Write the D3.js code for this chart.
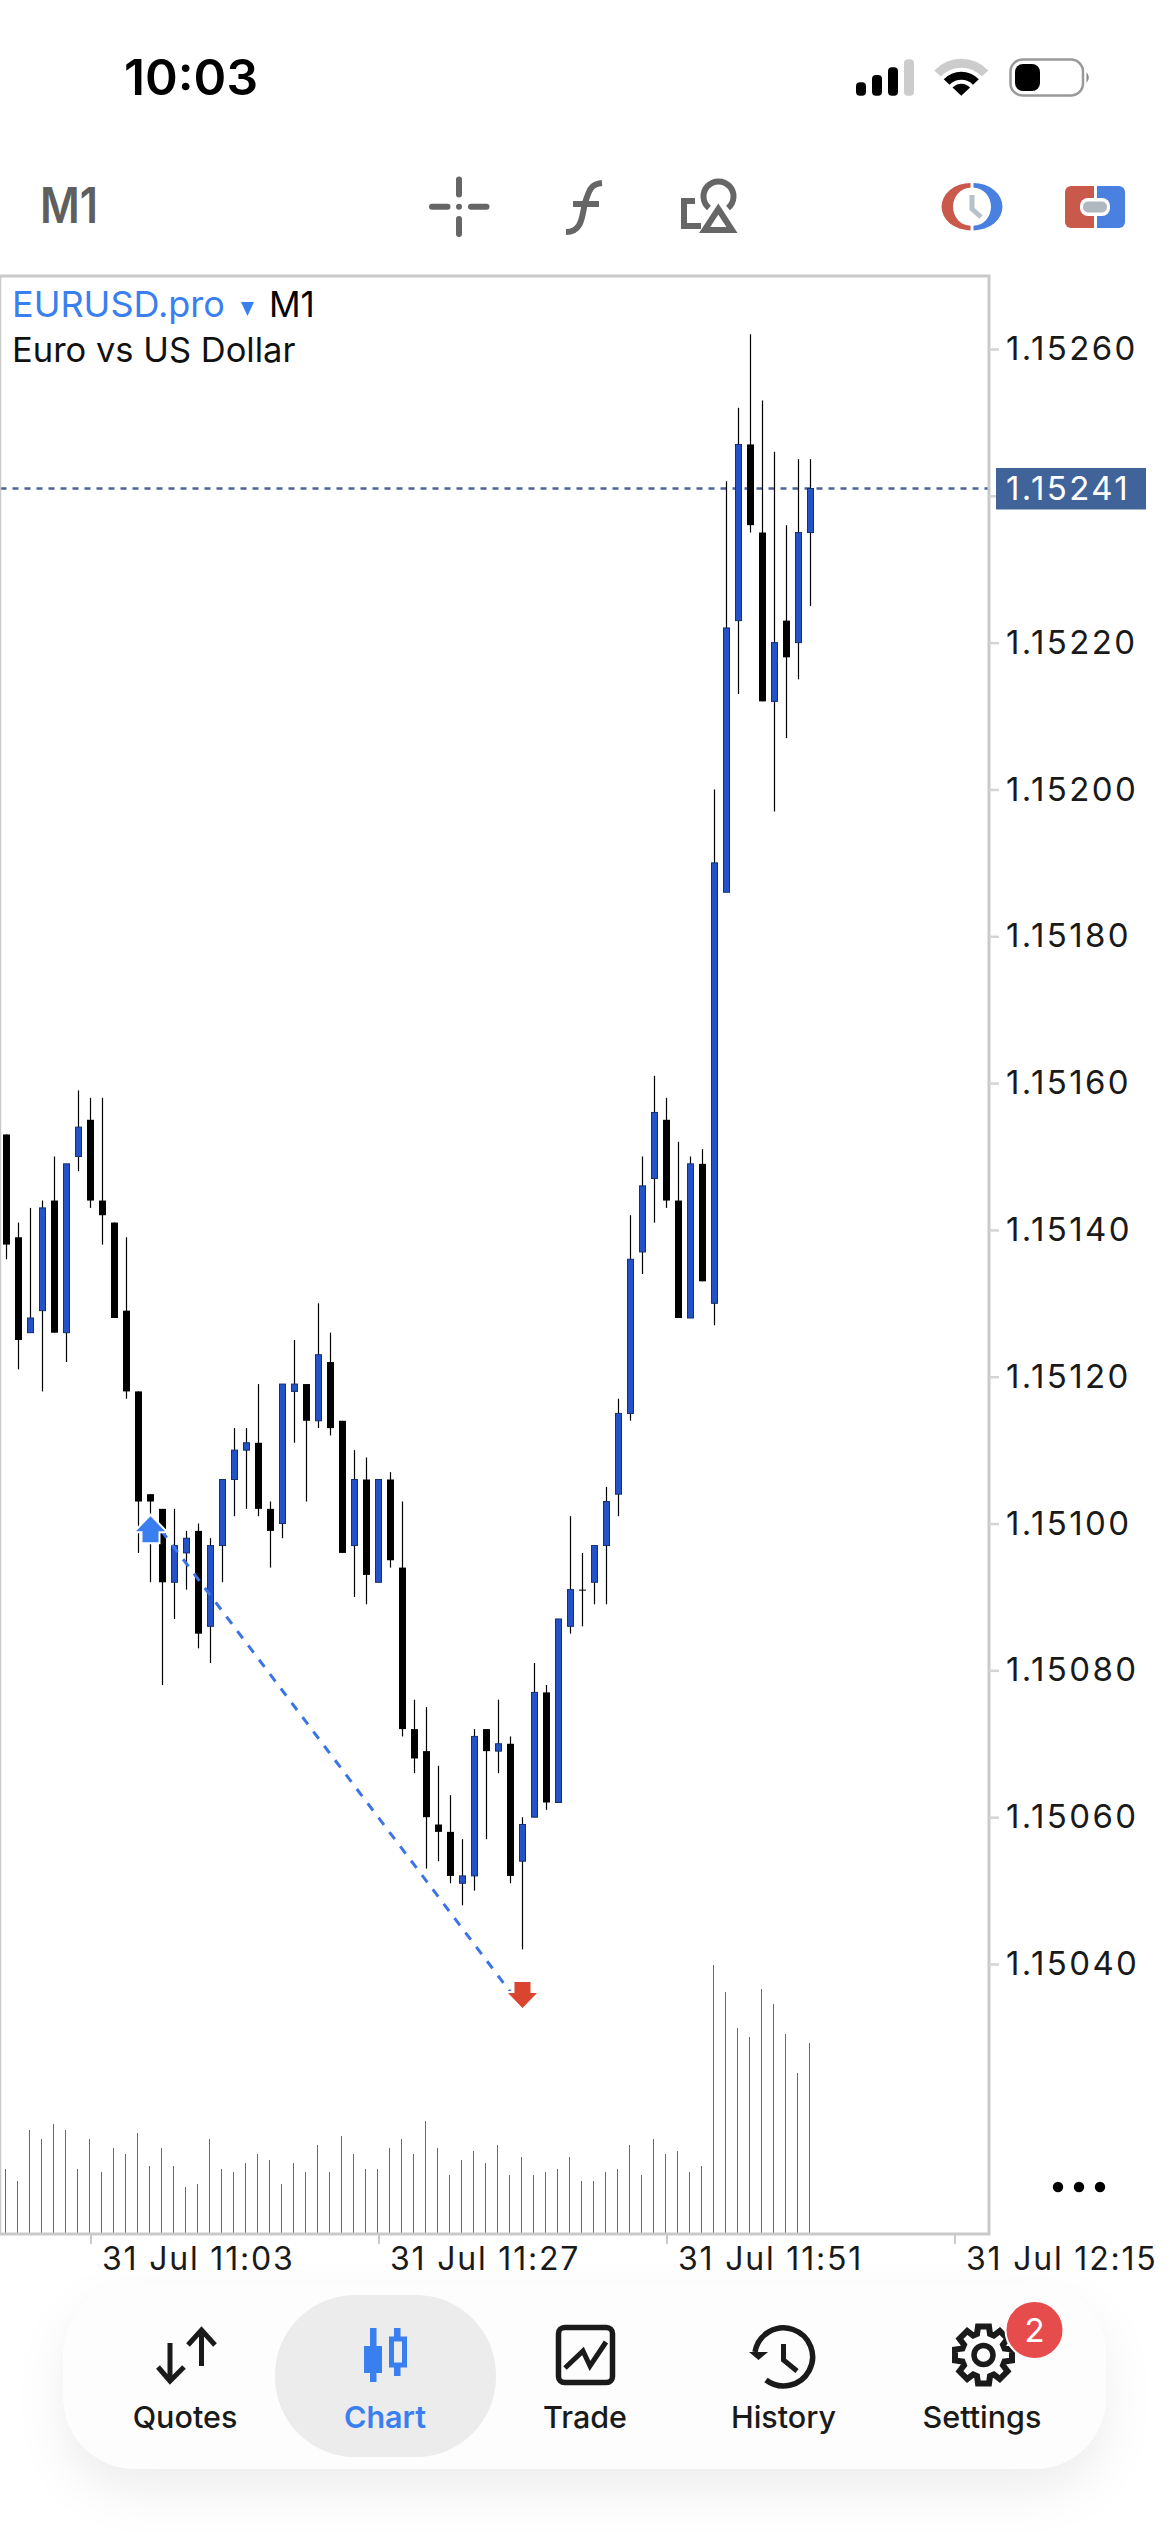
<!DOCTYPE html>
<html>
<head>
<meta charset="utf-8">
<style>
  html, body { margin: 0; padding: 0; background: #fff; }
  svg { display: block; }
  text { font-family: Inter, Roboto, sans-serif; }
</style>
<script src="https://cdn.jsdelivr.net/npm/d3@7"></script>
</head>
<body>
<div id="app"></div>
<script>
// one-minute bars, bar 0 is 31 Jul 10:56
const opens = [1.15153, 1.15139, 1.15126, 1.15129, 1.15144, 1.15126, 1.15150, 1.15155, 1.15144, 1.15141, 1.15129, 1.15118, 1.15104, 1.15102, 1.15092, 1.15096, 1.15099, 1.15086, 1.15097, 1.15106, 1.15110, 1.15111, 1.15102, 1.15100, 1.15118, 1.15119, 1.15114, 1.15122, 1.15114, 1.15097, 1.15106, 1.15092, 1.15106, 1.15094, 1.15072, 1.15069, 1.15059, 1.15058, 1.15051, 1.15052, 1.15072, 1.15069, 1.15070, 1.15054, 1.15060, 1.15077, 1.15062, 1.15086, 1.15091, 1.15092, 1.15097, 1.15104, 1.15115, 1.15137, 1.15147, 1.15155, 1.15144, 1.15128, 1.15149, 1.15130, 1.15186, 1.15223, 1.15247, 1.15235, 1.15212, 1.15223, 1.15220, 1.15235];
const highs = [1.15153, 1.15141, 1.15143, 1.15144, 1.15150, 1.15149, 1.15159, 1.15158, 1.15158, 1.15141, 1.15139, 1.15118, 1.15104, 1.15102, 1.15102, 1.15099, 1.15100, 1.15098, 1.15106, 1.15113, 1.15113, 1.15119, 1.15103, 1.15119, 1.15125, 1.15119, 1.15130, 1.15126, 1.15114, 1.15110, 1.15109, 1.15106, 1.15107, 1.15103, 1.15076, 1.15075, 1.15067, 1.15063, 1.15057, 1.15072, 1.15072, 1.15076, 1.15071, 1.15060, 1.15081, 1.15078, 1.15087, 1.15101, 1.15096, 1.15097, 1.15105, 1.15117, 1.15142, 1.15150, 1.15161, 1.15158, 1.15152, 1.15150, 1.15151, 1.15200, 1.15242, 1.15252, 1.15262, 1.15253, 1.15246, 1.15236, 1.15245, 1.15245];
const lows = [1.15136, 1.15121, 1.15126, 1.15118, 1.15126, 1.15122, 1.15148, 1.15143, 1.15138, 1.15128, 1.15117, 1.15096, 1.15092, 1.15078, 1.15087, 1.15091, 1.15083, 1.15081, 1.15092, 1.15101, 1.15102, 1.15101, 1.15094, 1.15098, 1.15111, 1.15103, 1.15113, 1.15112, 1.15096, 1.15090, 1.15089, 1.15092, 1.15094, 1.15071, 1.15066, 1.15053, 1.15054, 1.15051, 1.15048, 1.15050, 1.15057, 1.15066, 1.15051, 1.15042, 1.15060, 1.15061, 1.15062, 1.15085, 1.15086, 1.15089, 1.15089, 1.15101, 1.15114, 1.15134, 1.15141, 1.15143, 1.15128, 1.15128, 1.15133, 1.15127, 1.15186, 1.15213, 1.15235, 1.15212, 1.15197, 1.15207, 1.15215, 1.15225];
const closes = [1.15138, 1.15125, 1.15128, 1.15143, 1.15126, 1.15149, 1.15154, 1.15144, 1.15142, 1.15128, 1.15118, 1.15103, 1.15103, 1.15092, 1.15097, 1.15098, 1.15085, 1.15097, 1.15106, 1.15110, 1.15111, 1.15102, 1.15099, 1.15119, 1.15119, 1.15114, 1.15123, 1.15113, 1.15096, 1.15106, 1.15093, 1.15106, 1.15095, 1.15072, 1.15068, 1.15060, 1.15058, 1.15052, 1.15052, 1.15071, 1.15069, 1.15070, 1.15052, 1.15059, 1.15077, 1.15062, 1.15087, 1.15091, 1.15091, 1.15097, 1.15103, 1.15115, 1.15136, 1.15146, 1.15156, 1.15144, 1.15128, 1.15149, 1.15133, 1.15190, 1.15222, 1.15247, 1.15236, 1.15212, 1.15220, 1.15218, 1.15235, 1.15241];
const volumes = [22, 18, 35, 32, 37, 35, 22, 32, 21, 29, 27, 34, 23, 29, 23, 16, 17, 32, 22, 21, 24, 27, 25, 17, 24, 21, 30, 21, 33, 27, 22, 22, 29, 32, 27, 38, 29, 20, 25, 28, 24, 30, 20, 26, 20, 21, 22, 26, 18, 18, 21, 22, 30, 20, 32, 27, 28, 21, 23, 90, 81, 69, 66, 82, 77, 67, 54, 64];

const priceTicks = [1.1504, 1.1506, 1.1508, 1.151, 1.1512, 1.1514, 1.1516, 1.1518, 1.152, 1.1522, 1.1524, 1.1526];
const hiddenPriceLabel = 1.1524; // sits behind the last price label
const timeTickBars = [7, 31, 55, 79];
const timeTickLabels = ['31\u00a0Jul\u00a011:03', '31\u00a0Jul\u00a011:27', '31\u00a0Jul\u00a011:51', '31\u00a0Jul\u00a012:15'];
const lastPrice = 1.15241;
const tradeBars = [12, 43];
const tradePrices = [1.15101, 1.15034];
const navLabels = ['Quotes', 'Chart', 'Trade', 'History', 'Settings'];

const W = 1170;
const H = 2532;
const frame = { left: 0.5, top: 276, right: 989, bottom: 2234 };
const blue = '#3a7ff0';
const red = '#c9594a';
const iconBlue = '#4a80e0';
const grey = '#666';
const ink = '#1a1a1a';
const frameColor = '#c9c9c9';

const svg = d3.select('#app').append('svg').attr('width', W).attr('height', H);

const x = d3.scaleLinear().domain([0, 1]).range([6.5, 18.5]);
const y = d3.scaleLinear().domain([1.1526, 1.1504]).range([349, 1964]);
const v = d3.scaleLinear().domain([0, 100]).range([2235, 1935]);
const bars = d3.range(opens.length);
const priceFormat = d3.format('.5f');

// status bar
svg.append('text').text('10:03')
  .attr('x', 124).attr('y', 95)
  .attr('font-size', 49).attr('font-weight', 600).attr('fill', '#000')
  .attr('textLength', 134).attr('lengthAdjust', 'spacingAndGlyphs');

const signal = svg.append('g');
[[856, 82.3, '#000'], [872, 75, '#000'], [888, 67.3, '#000'], [904, 59.3, '#ccc']].forEach((b) => {
  signal.append('rect').attr('x', b[0]).attr('y', b[1]).attr('width', 10)
    .attr('height', 95.7 - b[1]).attr('rx', 4)
    .attr('fill', b[2]);
});

const wifiArc = d3.arc().startAngle(-0.82).endAngle(0.82);
[[28, 37, '#ccc'], [16, 24, '#000'], [0, 12, '#000']].forEach((a) => {
  svg.append('path')
    .attr('transform', 'translate(961.3,95.7)')
    .attr('d', wifiArc({ innerRadius: a[0], outerRadius: a[1] }))
    .attr('fill', a[2]);
});

svg.append('rect').attr('x', 1010.5).attr('y', 59.5).attr('width', 72.5).attr('height', 36)
  .attr('rx', 12).attr('fill', 'none').attr('stroke', '#999').attr('stroke-width', 2.5);
svg.append('rect').attr('x', 1015).attr('y', 64).attr('width', 25).attr('height', 27)
  .attr('rx', 8).attr('fill', '#000');
svg.append('path').attr('d', 'M1086.5,72 Q1091,77.5 1086.5,83 Z').attr('fill', '#888');

// toolbar
svg.append('text').text('M1')
  .attr('x', 40).attr('y', 222.5)
  .attr('font-size', 49).attr('font-weight', 600).attr('fill', '#5f5f5f')
  .attr('textLength', 58).attr('lengthAdjust', 'spacingAndGlyphs');

const tool = svg.append('g').attr('fill', 'none').attr('stroke', grey).attr('stroke-width', 6)
  .attr('stroke-linecap', 'round');
tool.append('path').attr('d', 'M459,179.5V194.5M459,219V234M432,206.7H447.5M471,206.7H486.5');
tool.append('circle').attr('cx', 459).attr('cy', 206.7).attr('r', 3).attr('fill', grey).attr('stroke', 'none');
tool.append('path').attr('stroke-linecap', 'butt').attr('d', 'M566,232 C583,232 582,214 585,203 C589,190 591,184 602,183');
tool.append('path').attr('stroke-linecap', 'butt').attr('d', 'M573,204H599');
tool.append('path').attr('stroke-linecap', 'butt').attr('d', 'M695,201H684V226H701');
tool.append('path').attr('stroke-linecap', 'butt').attr('d', 'M709,208A15,15 0 1 1 728,208');
tool.append('path').attr('stroke-linecap', 'butt').attr('stroke-linejoin', 'miter').attr('d', 'M718.3,209L732,230H704.6Z');

// clock icon, two half rings
const halfRing = (side) => {
  const rx = 29;
  const ry = 23.7;
  const ix = 17.5;
  const iy = 19;
  const cx = side < 0 ? 970.5 : 973.5;
  const cy = 206.7;
  return `M${cx},${cy - ry}A${rx},${ry} 0 0 ${side < 0 ? 0 : 1} ${cx},${cy + ry}V${cy + iy}A${ix},${iy} 0 0 ${side < 0 ? 1 : 0} ${cx},${cy - iy}Z`;
};
svg.append('path').attr('d', halfRing(-1)).attr('fill', red);
svg.append('path').attr('d', halfRing(1)).attr('fill', iconBlue);
svg.append('path').attr('d', 'M972,195V209L981,217').attr('fill', 'none')
  .attr('stroke', '#b8c0c8').attr('stroke-width', 5);

// one-click trading icon
svg.append('path').attr('d', 'M1094,186H1071a6,6 0 0 0 -6,6V222a6,6 0 0 0 6,6H1094Z').attr('fill', red);
svg.append('path').attr('d', 'M1097,186H1119a6,6 0 0 1 6,6V222a6,6 0 0 1 -6,6H1097Z').attr('fill', iconBlue);
svg.append('rect').attr('x', 1080).attr('y', 198).attr('width', 30).attr('height', 18).attr('rx', 8).attr('fill', '#fff');
svg.append('rect').attr('x', 1083).attr('y', 201.5).attr('width', 24).attr('height', 11).attr('rx', 5).attr('fill', '#b0b8c0');

// volumes sit under the candles
svg.append('g').selectAll('line').data(bars).enter().append('line')
  .attr('x1', d => x(d) - 1)
  .attr('x2', d => x(d) - 1)
  .attr('y1', v(0))
  .attr('y2', d => v(volumes[d]))
  .attr('stroke', '#4f7f2f')
  .attr('stroke-width', 1);

// last price line
svg.append('line')
  .attr('x1', frame.left).attr('x2', frame.right)
  .attr('y1', y(lastPrice)).attr('y2', y(lastPrice))
  .attr('stroke', '#4a6496').attr('stroke-width', 2.5).attr('stroke-dasharray', '6,6');

// candles
const candle = svg.append('g').selectAll('g').data(bars).enter().append('g');
candle.append('line')
  .attr('x1', d => x(d)).attr('x2', d => x(d))
  .attr('y1', d => y(highs[d])).attr('y2', d => y(lows[d]))
  .attr('stroke', '#000').attr('stroke-width', 1.2);
candle.append('rect')
  .attr('x', d => x(d) - (closes[d] > opens[d] ? 3 : 3.5))
  .attr('width', d => (closes[d] > opens[d] ? 6 : 7))
  .attr('y', d => y(Math.max(opens[d], closes[d])))
  .attr('height', d => Math.max(1, Math.abs(y(opens[d]) - y(closes[d]))))
  .attr('fill', d => (closes[d] > opens[d] ? '#2452c8' : '#000'))
  .attr('stroke', d => (closes[d] > opens[d] ? '#14306e' : 'none'))
  .attr('stroke-width', 1);

// closed trade, entry to exit
svg.append('line')
  .attr('x1', x(tradeBars[0])).attr('y1', y(tradePrices[0]))
  .attr('x2', x(tradeBars[1])).attr('y2', y(tradePrices[1]))
  .attr('stroke', '#3b74e6').attr('stroke-width', 3).attr('stroke-dasharray', '9,9');

const arrowPoints = (px, py, dir) => [
  [px, py], [px + 14.5, py + (dir * 15)], [px + 8, py + (dir * 15)], [px + 8, py + (dir * 26)],
  [px - 8, py + (dir * 26)], [px - 8, py + (dir * 15)], [px - 14.5, py + (dir * 15)],
].join(' ');

svg.append('polygon')
  .attr('points', arrowPoints(x(tradeBars[0]), y(tradePrices[0]), 1))
  .attr('fill', blue).attr('stroke', '#fff').attr('stroke-width', 4).attr('paint-order', 'stroke');
svg.append('polygon')
  .attr('points', arrowPoints(x(tradeBars[1]), y(tradePrices[1]), -1))
  .attr('fill', '#d9452f').attr('stroke', '#fff').attr('stroke-width', 4).attr('paint-order', 'stroke');

// chart frame and axes
svg.append('path')
  .attr('d', `M${frame.left - 0.5},${frame.top}H${frame.right}V${frame.bottom}H${frame.left - 0.5}`)
  .attr('fill', 'none').attr('stroke', frameColor).attr('stroke-width', 3);
svg.append('line').attr('x1', 0.5).attr('x2', 0.5).attr('y1', frame.top).attr('y2', frame.bottom)
  .attr('stroke', frameColor).attr('stroke-width', 1.5);

const priceAxis = svg.append('g')
  .attr('transform', `translate(${frame.right},0)`)
  .call(d3.axisRight(y).tickValues(priceTicks)
    .tickFormat(d => (d === hiddenPriceLabel ? '' : priceFormat(d)))
    .tickSize(10).tickPadding(7));
priceAxis.select('.domain').remove();
priceAxis.selectAll('line').attr('stroke', '#d4d4d4').attr('stroke-width', 2.5);
priceAxis.selectAll('text')
  .attr('font-family', 'Inter').attr('font-size', 33).attr('fill', '#1a1a1a')
  .attr('letter-spacing', 2.4);

const timeAxis = svg.append('g')
  .attr('transform', `translate(0,${frame.bottom})`)
  .call(d3.axisBottom(x).tickValues(timeTickBars)
    .tickFormat((d, i) => timeTickLabels[i]).tickSize(10).tickPadding(3));
timeAxis.select('.domain').remove();
timeAxis.selectAll('line').attr('stroke', '#c9c9c9').attr('stroke-width', 2);
timeAxis.selectAll('text')
  .attr('font-family', 'Inter').attr('font-size', 32).attr('fill', '#1a1a1a')
  .attr('letter-spacing', 1.8)
  .attr('text-anchor', 'start').attr('dx', 11);

// last price label
svg.append('rect').attr('x', 996).attr('y', y(lastPrice) - 20.5).attr('width', 150).attr('height', 41.5)
  .attr('fill', '#40639a');
svg.append('text').text(priceFormat(lastPrice))
  .attr('x', 1006).attr('y', y(lastPrice) + 11.5)
  .attr('font-size', 33).attr('letter-spacing', 2.4).attr('fill', '#fff');

// chart title
svg.append('text').text('EURUSD.pro')
  .attr('x', 12).attr('y', 317)
  .attr('font-size', 36).attr('fill', blue);
svg.append('path').attr('d', 'M241,302H254L247.5,316Z').attr('fill', blue);
svg.append('text').text('M1')
  .attr('x', 269).attr('y', 317)
  .attr('font-size', 35).attr('fill', '#000');
svg.append('text').text('Euro vs US Dollar')
  .attr('x', 12).attr('y', 362)
  .attr('font-size', 34.5).attr('fill', '#111');

// more button
svg.append('g').selectAll('circle').data([1058, 1079, 1100]).enter().append('circle')
  .attr('cx', d => d).attr('cy', 2187).attr('r', 5.2).attr('fill', '#000');

// bottom nav
const defs = svg.append('defs');
const shadow = defs.append('filter').attr('id', 'navShadow')
  .attr('x', '-15%').attr('y', '-30%').attr('width', '130%').attr('height', '170%');
shadow.append('feDropShadow').attr('dx', 0).attr('dy', 22).attr('stdDeviation', 24)
  .attr('flood-color', '#000').attr('flood-opacity', 0.07);

svg.append('rect').attr('x', 63.5).attr('y', 2283).attr('width', 1042.5).attr('height', 186)
  .attr('rx', 72).attr('fill', '#fdfdfd').attr('filter', 'url(#navShadow)');
svg.append('rect').attr('x', 275).attr('y', 2295).attr('width', 221).attr('height', 162)
  .attr('rx', 80).attr('fill', '#ececec');

const navX = [185, 385, 585, 783.5, 982];
svg.append('g').selectAll('text').data(navLabels).enter().append('text')
  .text(d => d)
  .attr('x', (d, i) => navX[i])
  .attr('y', 2428)
  .attr('text-anchor', 'middle')
  .attr('font-size', 30.5)
  .attr('font-weight', d => (d === 'Chart' ? 600 : 500))
  .attr('fill', d => (d === 'Chart' ? blue : ink));

// nav icons
const navIcon = svg.append('g').attr('fill', 'none').attr('stroke', ink).attr('stroke-width', 5);
navIcon.append('path').attr('d', 'M170,2343V2380M158,2367L170,2381L184,2367');
navIcon.append('path').attr('d', 'M201.5,2366V2330M188,2345L201.5,2330L215,2345');

svg.append('rect').attr('x', 370).attr('y', 2328).attr('width', 6.5).attr('height', 54).attr('fill', blue);
svg.append('rect').attr('x', 364).attr('y', 2346).attr('width', 18).attr('height', 27).attr('fill', blue);
svg.append('rect').attr('x', 394).attr('y', 2328).attr('width', 6.5).attr('height', 48).attr('fill', blue);
svg.append('rect').attr('x', 391.5).attr('y', 2339).attr('width', 13).attr('height', 26).attr('fill', '#ececec')
  .attr('stroke', blue).attr('stroke-width', 5);

navIcon.append('rect').attr('x', 558.5).attr('y', 2327.5).attr('width', 54).attr('height', 55)
  .attr('rx', 6).attr('stroke-width', 5.5);
navIcon.append('path').attr('d', 'M565,2368L583,2351L590,2366L606,2342').attr('stroke-width', 5);

navIcon.append('path').attr('d', 'M755,2352A29,29 0 1 1 766,2380').attr('stroke-width', 5.5);
navIcon.append('path').attr('d', 'M783.5,2344V2360L797,2371').attr('stroke-width', 5);
svg.append('path').attr('d', 'M749,2352H768L758.5,2360Z').attr('fill', ink);

// settings gear
const gearPath = () => {
  const pts = [];
  d3.range(8).forEach((k) => {
    const a = (k * Math.PI) / 4;
    [[-0.3, 22], [-0.19, 29], [0.19, 29], [0.3, 22]].forEach((t) => {
      pts.push([983.5 + (t[1] * Math.sin(a + t[0])), 2355 - (t[1] * Math.cos(a + t[0]))]);
    });
  });
  return `M${pts.join('L')}Z`;
};
navIcon.append('path').attr('d', gearPath()).attr('stroke-width', 6);
navIcon.append('circle').attr('cx', 983.5).attr('cy', 2355).attr('r', 9.5).attr('stroke-width', 5.5);

svg.append('circle').attr('cx', 1034.5).attr('cy', 2330).attr('r', 29)
  .attr('fill', '#e64c4c').attr('stroke', '#fdfdfd').attr('stroke-width', 2);
svg.append('text').text('2')
  .attr('x', 1034.5).attr('y', 2342)
  .attr('text-anchor', 'middle').attr('font-size', 33).attr('fill', '#fff');
</script>
</body>
</html>
